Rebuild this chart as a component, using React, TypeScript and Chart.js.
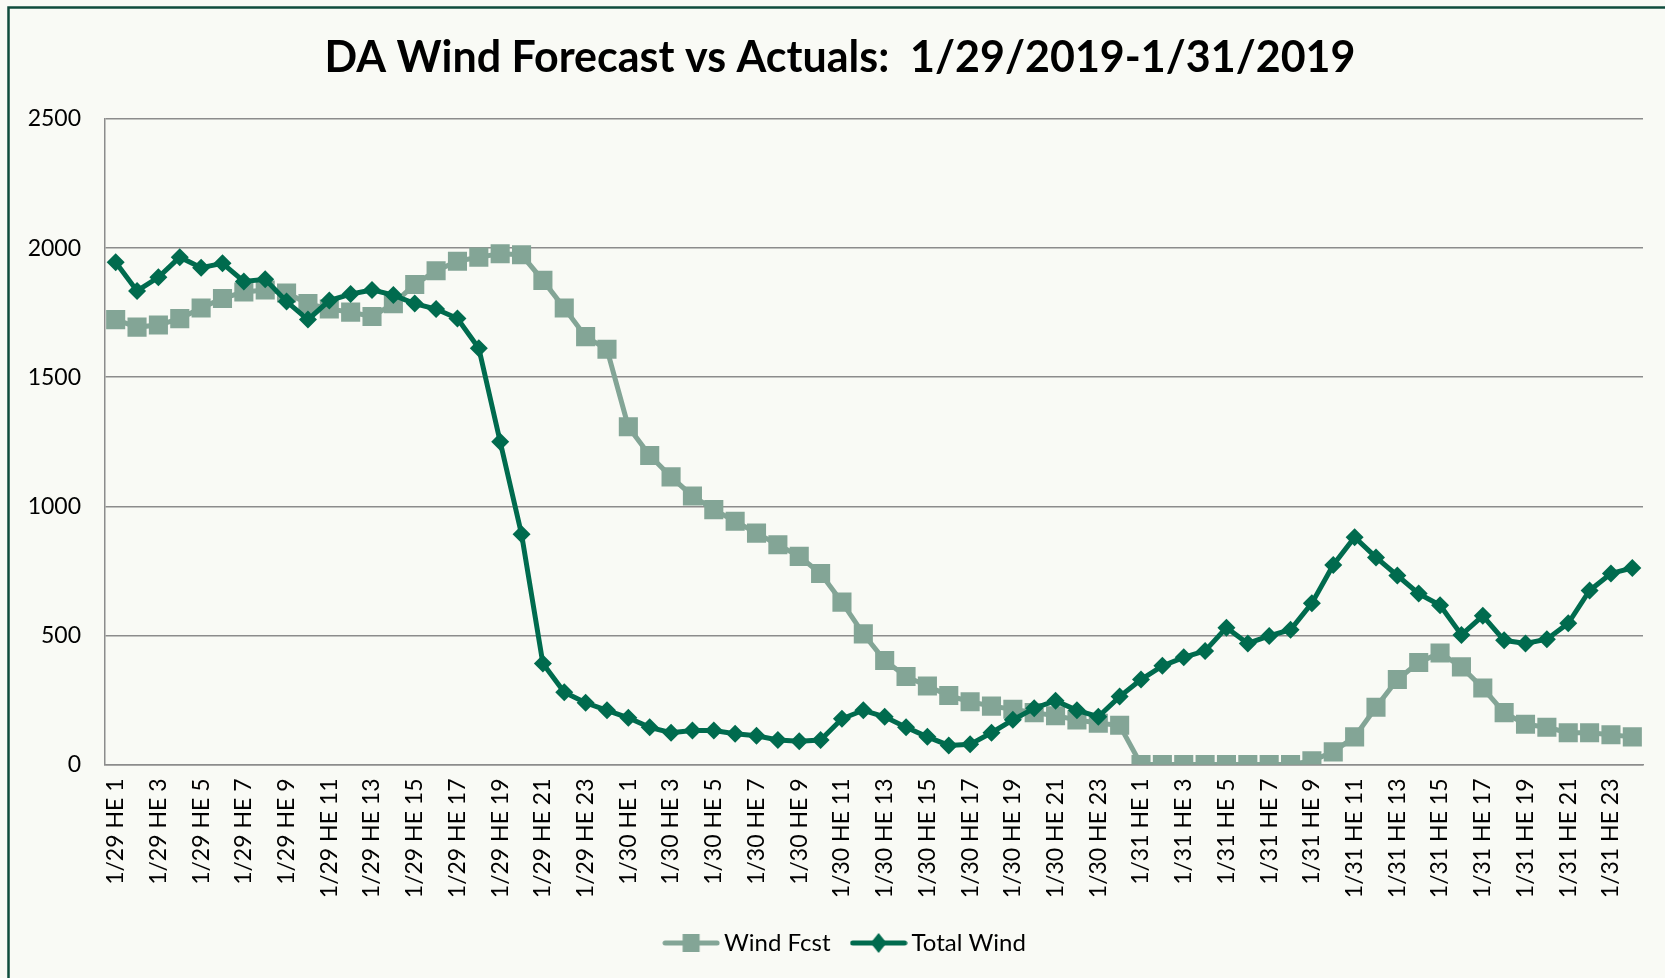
import React, { useEffect, useRef } from "react";
import { Chart, registerables } from "chart.js";

Chart.register(...registerables);

const DAYS = ["1/29", "1/30", "1/31"];
const HOURS = [1, 2, 3, 4, 5, 6, 7, 8, 9, 10, 11, 12, 13, 14, 15, 16, 17, 18, 19, 20, 21, 22, 23, 24];
const CATEGORIES = DAYS.flatMap((d) => HOURS.map((h) => `${d} HE ${h}`));

const WIND_FCST = [
  1723, 1694, 1702, 1727, 1768, 1805, 1830, 1838, 1826, 1785, 1764, 1752,
  1735, 1785, 1859, 1912, 1949, 1965, 1978, 1974, 1875, 1768, 1657, 1608,
  1308, 1197, 1114, 1040, 987, 942, 896, 851, 806, 740, 629, 506,
  403, 341, 304, 267, 243, 226, 214, 201, 189, 173, 160, 152,
  0, 0, 0, 0, 0, 0, 0, 0, 14, 49, 107, 222,
  329, 395, 432, 378, 296, 201, 156, 144, 123, 123, 115, 107,
];

const TOTAL_WIND = [
  1945, 1834, 1887, 1965, 1924, 1941, 1871, 1879, 1793, 1723, 1797, 1822,
  1838, 1818, 1785, 1764, 1727, 1612, 1250, 892, 391, 280, 239, 210,
  181, 144, 123, 132, 132, 119, 111, 95, 90, 95, 177, 210,
  185, 144, 107, 74, 78, 123, 173, 218, 247, 210, 185, 263,
  329, 382, 415, 440, 530, 469, 498, 522, 625, 773, 880, 802,
  732, 662, 617, 502, 576, 481, 469, 485, 547, 674, 740, 761,
];

const Y_TICKS = [0, 500, 1000, 1500, 2000, 2500];

const TITLE = "DA Wind Forecast vs Actuals:  1/29/2019-1/31/2019";
const FCST_COLOR = "#83a596";
const TOTAL_COLOR = "#006b4e";
const FONT = "Lato, 'Open Sans', sans-serif";

function makeLegendImage(color: string, kind: "square" | "diamond") {
  const c = document.createElement("canvas");
  c.width = 58;
  c.height = 22;
  const ctx = c.getContext("2d")!;
  ctx.strokeStyle = color;
  ctx.lineWidth = 5;
  ctx.lineCap = "round";
  ctx.beginPath();
  ctx.moveTo(3, 11);
  ctx.lineTo(55, 11);
  ctx.stroke();
  ctx.fillStyle = color;
  if (kind === "square") {
    ctx.fillRect(20.5, 2, 17, 18);
  } else {
    ctx.beginPath();
    ctx.moveTo(29, 1);
    ctx.lineTo(37, 11);
    ctx.lineTo(29, 21);
    ctx.lineTo(21, 11);
    ctx.closePath();
    ctx.fill();
  }
  return c;
}

export default function App() {
  const ref = useRef<HTMLCanvasElement | null>(null);

  useEffect(() => {
    if (!ref.current) return;
    const fcstImg = makeLegendImage(FCST_COLOR, "square");
    const totalImg = makeLegendImage(TOTAL_COLOR, "diamond");

    const bgPlugin = {
      id: "bgBorder",
      afterLayout(chart: any) {
        if (chart.legend) {
          chart.legend.left += 8;
          chart.legend.right += 8;
        }
      },
      beforeDraw(chart: any) {
        const ctx = chart.ctx;
        ctx.save();
        ctx.fillStyle = "#f9faf5";
        ctx.fillRect(0, 0, chart.width, chart.height);
        ctx.strokeStyle = "#0f4c3c";
        ctx.lineWidth = 2.5;
        ctx.strokeRect(8.5, 7.5, chart.width + 20, chart.height + 20);
        ctx.restore();
      },
    };

    const chart = new Chart(ref.current, {
      type: "line",
      data: {
        labels: CATEGORIES,
        datasets: [
          {
            label: "Wind Fcst",
            data: WIND_FCST,
            borderColor: FCST_COLOR,
            backgroundColor: FCST_COLOR,
            borderWidth: 5,
            pointStyle: "rect",
            pointRadius: 13.5,
            pointBorderWidth: 0,
            pointBackgroundColor: FCST_COLOR,
            tension: 0,
            order: 1,
          },
          {
            label: "Total Wind",
            data: TOTAL_WIND,
            borderColor: TOTAL_COLOR,
            backgroundColor: TOTAL_COLOR,
            borderWidth: 5,
            pointStyle: "rectRot",
            pointRadius: 9,
            pointBorderWidth: 0,
            pointBackgroundColor: TOTAL_COLOR,
            tension: 0,
            order: 0,
          },
        ],
      },
      options: {
        animation: false,
        responsive: false,
        maintainAspectRatio: false,
        layout: { padding: { left: 15, right: 0, top: 0, bottom: 13 } },
        plugins: {
          tooltip: { enabled: false },
          title: {
            display: true,
            text: TITLE,
            color: "#000000",
            font: { family: FONT, size: 43, weight: "bold" },
            padding: { top: 32, bottom: 35.4 },
          },
          legend: {
            display: true,
            position: "bottom",
            labels: {
              usePointStyle: true,
              pointStyleWidth: 42,
              padding: 27,
              color: "#000000",
              font: { family: FONT, size: 24 },
              generateLabels: () => [
                {
                  text: "Wind Fcst",
                  pointStyle: fcstImg as any,
                  fillStyle: FCST_COLOR,
                  strokeStyle: FCST_COLOR,
                  lineWidth: 0,
                  hidden: false,
                  datasetIndex: 0,
                  fontColor: "#000000",
                },
                {
                  text: "Total Wind",
                  pointStyle: totalImg as any,
                  fillStyle: TOTAL_COLOR,
                  strokeStyle: TOTAL_COLOR,
                  lineWidth: 0,
                  hidden: false,
                  datasetIndex: 1,
                  fontColor: "#000000",
                },
              ],
            },
          },
        },
        scales: {
          x: {
            type: "category",
            offset: true,
            grid: { display: false, drawTicks: false },
            border: { display: true, color: "#8c8c8c", width: 1.5 },
            ticks: {
              autoSkip: false,
              maxRotation: 90,
              minRotation: 90,
              padding: 14,
              color: "#000000",
              font: { family: FONT, size: 23 },
              callback: (_v: any, i: number) => (i % 2 === 0 ? CATEGORIES[i] : ""),
            },
            afterFit: (s: any) => {
              s.height = 139.5;
              s.paddingRight = 0;
              s.paddingLeft = 0;
            },
          },
          y: {
            min: Y_TICKS[0],
            max: Y_TICKS[Y_TICKS.length - 1],
            afterBuildTicks: (s: any) => {
              s.ticks = Y_TICKS.map((v) => ({ value: v }));
            },
            grid: { color: "#8c8c8c", lineWidth: 1.5, drawTicks: false },
            border: { display: true, color: "#8c8c8c", width: 1.5 },
            ticks: {
              padding: 24,
              color: "#000000",
              font: { family: FONT, size: 23 },
              callback: (v: any) => String(v),
            },
            afterFit: (s: any) => {
              s.width = 90;
            },
          },
          yRight: {
            position: "right",
            display: true,
            grid: { display: false, drawTicks: false },
            border: { display: false },
            ticks: { display: false },
            afterFit: (s: any) => {
              s.width = 22;
            },
          },
        },
      },
      plugins: [bgPlugin],
    } as any);

    return () => chart.destroy();
  }, []);

  return (
    <div style={{ position: "fixed", left: 0, top: 0, width: 1665, height: 978 }}>
      <canvas ref={ref} width={1665} height={978} style={{ display: "block", width: 1665, height: 978 }} />
    </div>
  );
}
